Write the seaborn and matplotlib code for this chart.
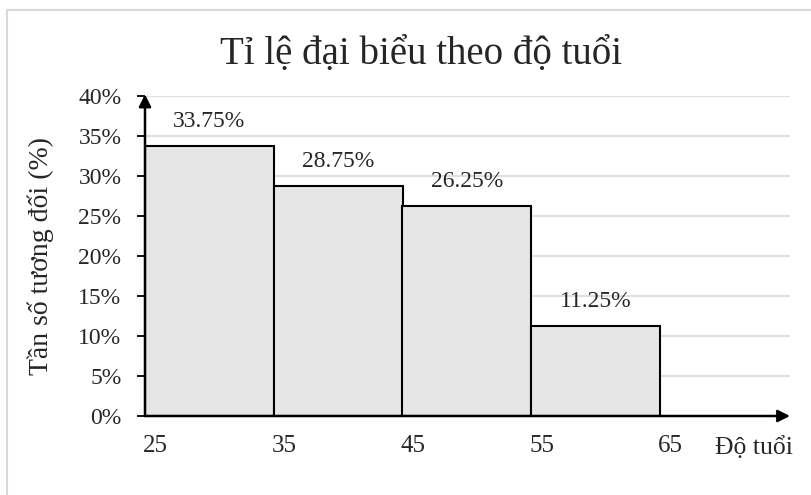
import matplotlib
matplotlib.use("Agg")
import matplotlib.pyplot as plt
import seaborn as sns
import numpy as np
from matplotlib.patches import Rectangle

# data
bin_edges = [25, 35, 45, 55, 65]
group_mid = [30, 40, 50, 60]
percents = [33.75, 28.75, 26.25, 11.25]
bar_labels = ["33.75%", "28.75%", "26.25%", "11.25%"]
y_ticks = [0, 5, 10, 15, 20, 25, 30, 35, 40]
x_ticks = [25, 35, 45, 55, 65]

sns.set_style("white")
plt.rcParams['font.family'] = ['Liberation Serif', 'DejaVu Serif']

W, H = 811, 495
fig = plt.figure(figsize=(W / 100, H / 100), dpi=100)
ax = fig.add_axes([145 / W, 1 - 416 / H, (790 - 145) / W, (416 - 96) / H])

sns.histplot(x=group_mid, weights=percents, bins=bin_edges, ax=ax,
             color='#e6e6e6', edgecolor='black', linewidth=1.5, alpha=1)

ax.set_xlim(25, 25 + (790 - 145) / 12.875)
ax.set_ylim(0, 40)

# grid
for v in y_ticks[1:]:
    ax.axhline(v, color='#d9d9d9', lw=1.2, zorder=0)

for s in ax.spines.values():
    s.set_visible(False)

ax.set_yticks(y_ticks)
ax.set_yticklabels([f"{v}%" for v in y_ticks], fontsize=17)
ax.tick_params(axis='y', length=6, width=1.3, color='black', pad=11, left=True)
ax.set_xticks([])
ax.set_xlabel("")
ax.set_ylabel("")

fig.text(41 / W, 1 - 256 / H, "Tần số tương đối (%)", rotation=90,
         ha='center', va='center', fontsize=20)

for x in x_ticks:
    ax.text(x + 0.8, -3.7, str(x), ha='center', va='center', fontsize=18)
ax.text(1.005, -4.0, "Độ tuổi", transform=ax.get_yaxis_transform(), ha='right',
        va='center', fontsize=18.5)

# arrow axes
ax.annotate("", xy=(1, 0), xytext=(0, 0), xycoords='axes fraction',
            arrowprops=dict(arrowstyle='-|>', color='black', lw=1.8,
                            mutation_scale=18, shrinkA=0, shrinkB=0), zorder=5)
ax.annotate("", xy=(0, 1.005), xytext=(0, 0), xycoords='axes fraction',
            arrowprops=dict(arrowstyle='-|>', color='black', lw=1.8,
                            mutation_scale=18, shrinkA=0, shrinkB=0), zorder=5)

ax.bar_label(ax.containers[0], labels=bar_labels, padding=10, fontsize=17)

fig.text(421 / W, 1 - 55 / H, "Tỉ lệ đại biểu theo độ tuổi", ha='center',
         va='center', fontsize=28)

fig.patches.append(Rectangle((6.5 / W, -0.1), 2, 1 - 9.5 / H + 0.1,
                             transform=fig.transFigure, fill=False,
                             edgecolor='#d9d9d9', lw=1.5))

fig.savefig("out.png", dpi=100)
